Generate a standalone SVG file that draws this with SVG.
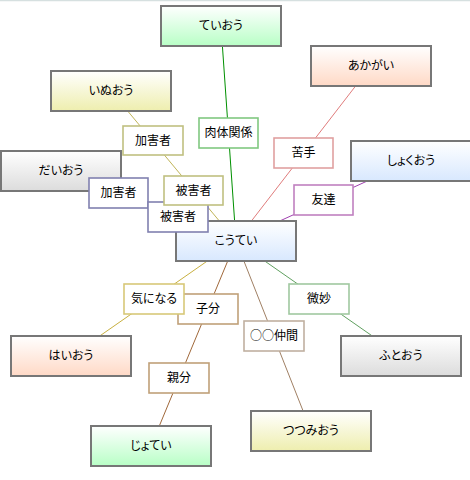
<svg xmlns="http://www.w3.org/2000/svg" width="470" height="480" viewBox="0 0 470 480">
<defs>
<linearGradient id="gG" x1="0" y1="0" x2="0" y2="1"><stop offset="0" stop-color="#ffffff"/><stop offset="1" stop-color="#b8ffc6"/></linearGradient>
<linearGradient id="gY" x1="0" y1="0" x2="0" y2="1"><stop offset="0" stop-color="#ffffff"/><stop offset="1" stop-color="#eeeeae"/></linearGradient>
<linearGradient id="gS" x1="0" y1="0" x2="0" y2="1"><stop offset="0" stop-color="#ffffff"/><stop offset="1" stop-color="#dcdcdc"/></linearGradient>
<linearGradient id="gP" x1="0" y1="0" x2="0" y2="1"><stop offset="0" stop-color="#ffffff"/><stop offset="1" stop-color="#ffd9c6"/></linearGradient>
<linearGradient id="gB" x1="0" y1="0" x2="0" y2="1"><stop offset="0" stop-color="#ffffff"/><stop offset="1" stop-color="#d8e8fe"/></linearGradient>
</defs>
<style>
text{font-family:"Noto Sans CJK JP","Noto Sans CJK SC",sans-serif;font-size:12px;fill:#000;text-anchor:middle;font-feature-settings:"palt"}
text.fw{font-feature-settings:normal}
.node rect{stroke:#777;stroke-width:2}
.lab rect{fill:#fff;stroke-width:1.6}
.conn line{stroke-width:1;fill:none}
</style>
<rect x="0" y="0" width="470" height="480" fill="#fff"/>
<line x1="0" y1="0.5" x2="470" y2="0.5" stroke="#d6e0e0" stroke-width="1.5"/>
<g id="connectors" class="conn">
<line x1="221" y1="26" x2="236" y2="241" stroke="#009000"/>
<line x1="111" y1="91" x2="236" y2="241" stroke="#c0b458"/>
<line x1="61" y1="171" x2="236" y2="241" stroke="#7070a8"/>
<line x1="371" y1="66" x2="236" y2="241" stroke="#e07c7c"/>
<line x1="411" y1="161" x2="236" y2="241" stroke="#a040b0"/>
<line x1="236" y1="241" x2="71" y2="356" stroke="#c8b040"/>
<line x1="236" y1="241" x2="151" y2="446" stroke="#a0683a"/>
<line x1="236" y1="241" x2="311" y2="431" stroke="#a08064"/>
<line x1="236" y1="241" x2="401" y2="356" stroke="#60a060"/>
</g>
<g id="n-teiou" class="node"><rect x="161" y="6" width="120" height="40" fill="url(#gG)"/><text x="221" y="30">ていおう</text></g>
<g id="n-inuou" class="node"><rect x="51" y="71" width="120" height="40" fill="url(#gY)"/><text x="111" y="95">いぬおう</text></g>
<g id="n-daiou" class="node"><rect x="1" y="151" width="120" height="40" fill="url(#gS)"/><text x="61" y="175">だいおう</text></g>
<g id="n-akagai" class="node"><rect x="311" y="46" width="120" height="40" fill="url(#gP)"/><text x="371" y="70">あかがい</text></g>
<g id="n-shokuou" class="node"><rect x="351" y="141" width="120" height="40" fill="url(#gB)"/><text x="411" y="165">しょくおう</text></g>
<g id="n-koutei" class="node"><rect x="176" y="221" width="120" height="40" fill="url(#gB)"/><text x="236" y="245">こうてい</text></g>
<g id="n-haiou" class="node"><rect x="11" y="336" width="120" height="40" fill="url(#gP)"/><text x="71" y="360">はいおう</text></g>
<g id="n-jotei" class="node"><rect x="91" y="426" width="120" height="40" fill="url(#gG)"/><text x="151" y="450">じょてい</text></g>
<g id="n-futoou" class="node"><rect x="341" y="336" width="120" height="40" fill="url(#gS)"/><text x="401" y="360">ふとおう</text></g>
<g id="n-tsutsumiou" class="node"><rect x="251" y="411" width="120" height="40" fill="url(#gY)"/><text x="311" y="435">つつみおう</text></g>
<g id="edge-labels" class="lab">
<g id="l-nikutai"><rect x="199" y="118" width="59" height="30" stroke="#80c880"/><text x="228.5" y="137">肉体関係</text></g>
<g id="l-kagai1"><rect x="123" y="126" width="60" height="29" stroke="#c0c080"/><text x="153" y="145">加害者</text></g>
<g id="l-kagai2"><rect x="89" y="178" width="59" height="30" stroke="#8080b0"/><text x="118.5" y="197">加害者</text></g>
<g id="l-higai2"><rect x="148" y="202" width="60" height="30" stroke="#8080b0"/><text x="178" y="221">被害者</text></g>
<g id="l-higai1"><rect x="164" y="176" width="59" height="29" stroke="#c0c080"/><text x="193.5" y="195">被害者</text></g>
<g id="l-nigate"><rect x="274" y="138" width="59" height="30" stroke="#e0a0a0"/><text x="303.5" y="157">苦手</text></g>
<g id="l-tomodachi"><rect x="294" y="185" width="59" height="30" stroke="#c080c0"/><text x="323.5" y="204">友達</text></g>
<g id="l-kobun"><rect x="178" y="294" width="60" height="30" stroke="#c0a078"/><text x="208" y="313">子分</text></g>
<g id="l-kininaru"><rect x="124" y="284" width="60" height="30" stroke="#d8c878"/><text x="154" y="303">気になる</text></g>
<g id="l-oyabun"><rect x="149" y="363" width="60" height="30" stroke="#c0a078"/><text x="179" y="382">親分</text></g>
<g id="l-bimyou"><rect x="289" y="284" width="60" height="30" stroke="#a0c8a0"/><text x="319" y="303">微妙</text></g>
<g id="l-nakama"><rect x="244" y="321" width="60" height="30" stroke="#c0b0a0"/><text class="fw" x="274" y="340">○○仲間</text></g>
</g>
</svg>
